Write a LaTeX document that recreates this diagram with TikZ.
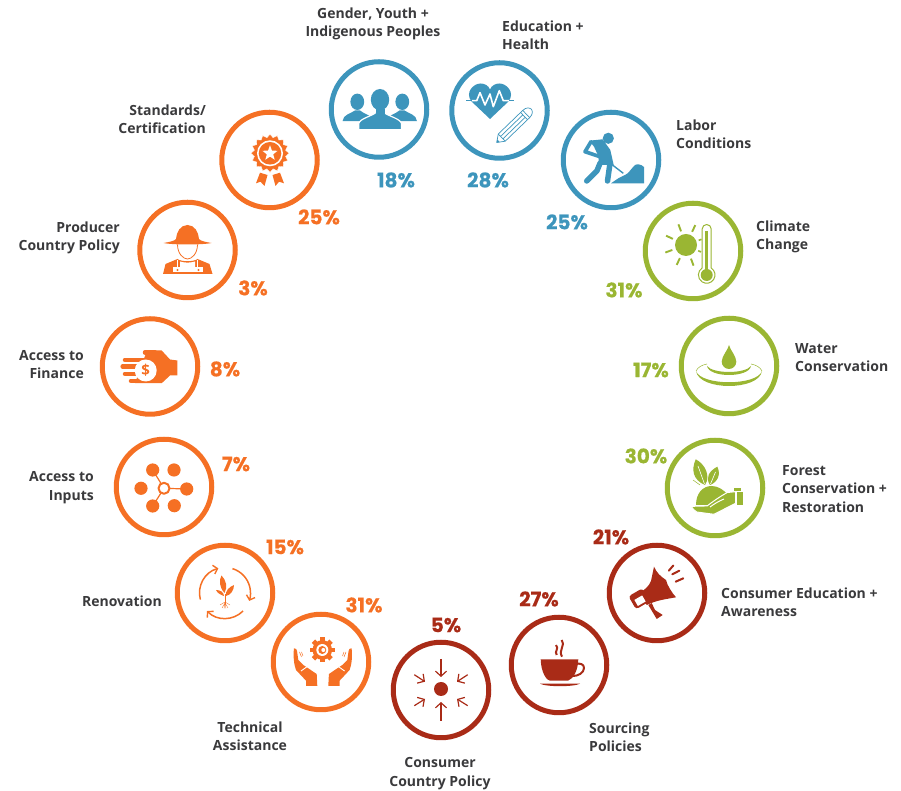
\documentclass[tikz,border=0pt]{standalone}
\usepackage{fontspec}
\setmainfont{Open Sans}
\newfontfamily\pctfont{Poppins}[BoldFeatures={FakeBold=0.4}]
\usetikzlibrary{shapes.geometric,arrows.meta}
\definecolor{cblue}{HTML}{3D95BC}
\definecolor{corange}{HTML}{F57024}
\definecolor{cgreen}{HTML}{9AB633}
\definecolor{cred}{HTML}{A92B17}
\definecolor{ctext}{HTML}{3A3A3C}
\tikzset{
  ring/.style={circle,draw,line width=5pt,minimum size=95.5pt,inner sep=0pt},
  lab/.style={text=ctext,font=\fontsize{14}{18.4}\selectfont\bfseries,inner sep=0pt},
  lableft/.style={lab,anchor=west,align=left},
  labright/.style={lab,anchor=east,align=right},
  labmid/.style={lab,anchor=center,align=center},
  pct/.style={font=\pctfont\fontsize{20}{22}\selectfont\bfseries,inner sep=0pt,anchor=center},
  barb/.style={-{Straight Barb[length=5pt,width=11pt,line width=1.2pt]}},
  sbarb/.style={-{Straight Barb[length=4pt,width=9pt,line width=1.4pt]}},
}
\begin{document}
\begin{tikzpicture}[x=1pt,y=1pt,line join=round]
\useasboundingbox (0,0) rectangle (901,791);
% rings
\node[ring,draw=cblue] (gender) at (379,681.5) {};
\node[ring,draw=cblue] (education) at (499.5,680.5) {};
\node[ring,draw=cblue] (labor) at (611,631) {};
\node[ring,draw=cgreen] (climate) at (693,540) {};
\node[ring,draw=cgreen] (water) at (729,425) {};
\node[ring,draw=cgreen] (forest) at (715,303) {};
\node[ring,draw=cred] (consed) at (657,198) {};
\node[ring,draw=cred] (sourcing) at (559,126) {};
\node[ring,draw=cred] (conscountry) at (441,101) {};
\node[ring,draw=corange] (technical) at (321,129) {};
\node[ring,draw=corange] (renovation) at (225,198) {};
\node[ring,draw=corange] (inputs) at (164,304) {};
\node[ring,draw=corange] (finance) at (150,424.5) {};
\node[ring,draw=corange] (producer) at (187.5,541) {};
\node[ring,draw=corange] (standards) at (269.5,631) {};
% labels
\node[labmid] (lgender) at (373,767) {Gender, Youth +\\Indigenous Peoples};
\node[lableft] (leducation) at (502,755.5) {Education +\\Health};
\node[lableft] (llabor) at (676,656.5) {Labor\\Conditions};
\node[lableft] (lclimate) at (756,554) {Climate\\Change};
\node[lableft] (lwater) at (795,433.5) {Water\\Conservation};
\node[lableft] (lforest) at (782,302) {Forest\\Conservation +\\Restoration};
\node[lableft] (lconsed) at (721,188.5) {Consumer Education +\\Awareness};
\node[lableft] (lsourcing) at (589,53.5) {Sourcing\\Policies};
\node[labmid] (lconscountry) at (440,17.5) {Consumer\\Country Policy};
\node[labmid] (ltechnical) at (250,55) {Technical\\Assistance};
\node[labright] (lrenovation) at (162,189.5) {Renovation};
\node[labright] (linputs) at (94,303.5) {Access to\\Inputs};
\node[labright] (lfinance) at (84,426.5) {Access to\\Finance};
\node[labright] (lproducer) at (120,553) {Producer\\Country Policy};
\node[labright] (lstandards) at (206,671.5) {Standards/\\Certification};
% percentages
\node[pct,text=cblue] (pgender) at (396,611) {18\%};
\node[pct,text=cblue] (peducation) at (488,611) {28\%};
\node[pct,text=cblue] (plabor) at (567,569) {25\%};
\node[pct,text=cgreen] (pclimate) at (624,501) {31\%};
\node[pct,text=cgreen] (pwater) at (651,421) {17\%};
\node[pct,text=cgreen] (pforest) at (646,335) {30\%};
\node[pct,text=cred] (pconsed) at (611,254) {21\%};
\node[pct,text=cred] (psourcing) at (539,192) {27\%};
\node[pct,text=cred] (pconscountry) at (446,166) {5\%};
\node[pct,text=corange] (ptechnical) at (364,186) {31\%};
\node[pct,text=corange] (prenovation) at (285,244) {15\%};
\node[pct,text=corange] (pinputs) at (236,327) {7\%};
\node[pct,text=corange] (pfinance) at (225,422) {8\%};
\node[pct,text=corange] (pproducer) at (253,503) {3\%};
\node[pct,text=corange] (pstandards) at (319,574) {25\%};
% ---- gender icon
\begin{scope}[shift={(gender.center)},color=cblue]
  \fill (-21.7,7.7) ellipse (6.9 and 8.2);
  \fill (-36.5,-11.7) .. controls (-36,-5) and (-28,-4) .. (-24,-1) -- (-19,-1) .. controls (-17,-3) and (-14,-4) .. (-10,-6) -- (-10,-11.7) -- cycle;
  \fill (23.3,7.7) ellipse (6.9 and 8.2);
  \fill (38,-11.7) .. controls (37.5,-5) and (29.5,-4) .. (25.5,-1) -- (20.5,-1) .. controls (18.5,-3) and (15.5,-4) .. (11.5,-6) -- (11.5,-11.7) -- cycle;
  \filldraw[draw=white,line width=1.2pt,fill=cblue] (-20.2,-20.2) -- (-20.2,-14) .. controls (-19,-9) and (-8,-7) .. (-3,-3) -- (5,-3) .. controls (10,-7) and (21,-9) .. (22.5,-14) -- (22.5,-20.2) -- cycle;
  \fill (1,9.8) ellipse (9.2 and 10.7);
  \fill (-3.5,0) rectangle (5.5,-5);
\end{scope}
% ---- education icon
\begin{scope}[shift={(education.center)},color=cblue]
  \fill (-9.5,-8.5) -- (-28,9) .. controls (-35,18) and (-26,27) .. (-19,27) .. controls (-15,27) and (-11,25) .. (-9.5,21) .. controls (-8,25) and (-4,27) .. (0,27) .. controls (7,27) and (16,18) .. (9,9) -- cycle;
  \draw[white,line width=1.6pt] (-27.8,9.8) -- (-22.8,9.8) -- (-19.5,17.8) -- (-14.5,5.5) -- (-9.5,16.5) -- (-6.2,3.8) -- (-.2,19.8) -- (3.8,9.8) -- (9.8,9.8);
  \draw[line width=.8pt] (-33.5,9.8) -- (-27.5,9.8) (9.5,9.8) -- (14.5,9.8);
  \begin{scope}[shift={(-2.8,-32)},rotate=44,line width=.7pt]
    \draw (0,0) -- (7,5) -- (41,5) .. controls (46,5) and (48,2) .. (48,0) .. controls (48,-2) and (46,-5) .. (41,-5) -- (7,-5) -- cycle;
    \draw (7,1.7) -- (38,1.7) (7,-1.7) -- (38,-1.7) (38,5) -- (38,-5) (41,5) -- (41,-5) (7,5) -- (7,-5);
    \fill (0,0) -- (2.5,1.8) -- (2.5,-1.8) -- cycle;
  \end{scope}
\end{scope}
% ---- labor icon
\begin{scope}[shift={(labor.center)},color=cblue]
  \fill (-2.7,21.7) circle (5.6);
  \fill (-21.7,19.3) -- (-8.3,20.7) -- (-.7,10) -- (2.7,-5) -- (-12,-5) -- (-12.7,4) -- (-17,13.3) -- cycle;
  \draw[line width=3.7pt,line cap=round] (-20,18.3) -- (-26,8.3) -- (-9.3,2.7);
  \draw[line width=5.5pt,line cap=round] (-11,-3.3) -- (-14,-10.7) -- (-24.3,-21);
  \draw[line width=5.5pt,line cap=round] (-1,-3.3) -- (-3.5,-21);
  \draw[line width=1.4pt] (-9,3) -- (12.3,-13.3);
  \fill (0,-23.3) -- (33,-23.3) -- (33,-7) .. controls (30,-4) and (26,-4) .. (24,-5) .. controls (20,-9) and (17,-14) .. (14,-15) -- (7.3,-18.3) -- cycle;
\end{scope}
% ---- climate icon
\begin{scope}[shift={(climate.center)},color=cgreen]
  \fill (-7,6) circle (11);
  \foreach \a in {65,110,155,200,245,290}
    \draw[line width=1.9pt] (-7,6) ++(\a:14.5) -- ++(\a:7.5);
  \draw[line width=1.6pt] (-7,6) ++(20:13.5) -- ++(20:3);
  \draw[line width=1.6pt] (-7,6) ++(335:13.5) -- ++(335:3);
  \draw[line width=1pt] (9.2,-17) -- (9.2,22) arc[start angle=180,end angle=0,radius=4.5] -- (18.2,-17) arc[start angle=57,end angle=-237,radius=8.3];
  \draw[line width=2.8pt] (13.7,-22) -- (13.7,20);
  \fill (13.7,-24) circle (6);
\end{scope}
% ---- water icon
\begin{scope}[shift={(water.center)},color=cgreen]
  \fill (0,21) .. controls (1,16) and (7.3,10) .. (7.3,4.3) arc[start angle=0,end angle=-180,radius=7.3] .. controls (-7.3,10) and (-1,16) .. cycle;
  \fill (-22,0) .. controls (-20,-12) and (20,-12) .. (22,0) .. controls (16,-8) and (-16,-8) .. cycle;
  \fill (-33,-5) .. controls (-30,-25) and (30,-25) .. (33,-5) .. controls (28,-20) and (-28,-20) .. cycle;
  \draw[line width=.5pt] (-33,-5) .. controls (-31,-1) and (-27,1) .. (-22,2);
  \draw[line width=.5pt] (33,-5) .. controls (31,-1) and (27,1) .. (22,2);
\end{scope}
% ---- forest icon
\begin{scope}[shift={(forest.center)},color=cgreen]
  \fill (-19,-17) .. controls (-19,-5) and (-12,2) .. (-3.3,2) .. controls (3,2) and (9,-2) .. (13,-7) -- (-6.7,-17) -- cycle;
  \filldraw[draw=white,line width=1pt,fill=cgreen] (-23.8,-18.7) .. controls (-21,-18) and (-14,-18) .. (-8,-18) .. controls (-4,-15) and (4,-9) .. (12.3,-4.5) -- (20.5,-3.7) -- (20.5,-15.3) -- (-1,-26.3) -- (-18.3,-24) .. controls (-20,-23) and (-22,-21) .. cycle;
  \draw[white,line width=1pt] (-5,-19) .. controls (-1,-16) and (4,-13) .. (9,-11);
  \fill (21.7,-3.7) rectangle (28.3,-17);
  \fill (19,-.5) rectangle (25.7,-3);
  \fill (-10,3) .. controls (-22,8) and (-24,18) .. (-19.3,28.7) .. controls (-10,24) and (-4,12) .. (-10,3) -- cycle;
  \draw[white,line width=.6pt] (-10.5,4) -- (-17,22);
  \fill (-5,3) .. controls (-10,10) and (-6,17) .. (2.3,21.3) .. controls (6,14) and (3,6) .. (-5,3) -- cycle;
  \draw[white,line width=.6pt] (-4.5,4) -- (.5,16);
  \draw[line width=.5pt] (-22,8) -- (-15,3);
\end{scope}
% ---- consumer education icon
\begin{scope}[shift={(consed.center)},color=cred]
  \fill (-3,26.3) .. controls (0,20) and (3,17) .. (9,13) .. controls (10,8) and (15,0) .. (19,-4.3) .. controls (10,-6) and (0,-7) .. (-10.3,-12) -- (-17.7,.3) .. controls (-12,3) and (-8,7) .. (-6,12) -- cycle;
  \fill[rotate around={30:(-18.7,-6.3)},rounded corners=3pt] (-25.7,-13.8) rectangle (-9.7,1.2);
  \fill[white,rotate around={30:(-17,-7.7)}] (-21.5,-11.2) rectangle (-12.5,-4.2);
  \fill (-8.7,-12) -- (-.3,-26) -- (5.7,-22) -- (-2,-17) -- (-5.3,-10) -- cycle;
  \draw[line width=2pt,line cap=round] (11.8,22.3) -- (16.3,27.5);
  \draw[line width=2pt,line cap=round] (15.3,18.7) -- (22.3,22.3);
  \draw[line width=2pt,line cap=round] (18.7,11.3) -- (26.3,14.7);
\end{scope}
% ---- sourcing icon
\begin{scope}[shift={(sourcing.center)},color=cred]
  \fill (-18.3,5.7) .. controls (-18,-8) and (-12,-15.7) .. (-9,-15.7) -- (9,-15.7) .. controls (14,-14) and (19,-6) .. (19.3,5.7) -- cycle;
  \draw[line width=2pt] (17,1) .. controls (21,2) and (25,1) .. (25,-3) .. controls (25,-8) and (19,-11) .. (14,-11);
  \fill (-19,-18.7) -- (21,-18.7) .. controls (15,-22) and (-13,-22) .. cycle;
  \draw[line width=2pt] (2.7,25) .. controls (7,20) and (-1,15) .. (3,8.3);
  \draw[line width=2pt] (-3,20) .. controls (.5,16) and (-5,14) .. (-2.3,10);
\end{scope}
% ---- consumer country icon
\begin{scope}[shift={(conscountry.center)},color=cred,line width=1.2pt]
  \fill (0,1) circle (7);
  \draw[barb] (0,31) -- (0,13);
  \draw[barb] (0,-31) -- (0,-12);
  \draw[barb] (-26.7,15.3) -- (-16,8.3);
  \draw[barb] (26.7,15.3) -- (16,8.3);
  \draw[barb] (-26.7,-15.7) -- (-16,-9);
  \draw[barb] (26.7,-15.7) -- (16,-9);
\end{scope}
% ---- technical icon
\begin{scope}[shift={(technical.center)},color=corange]
  \foreach \a in {0,45,...,315}
    \fill[shift={(1.3,12)},rotate=\a] (-2.4,0) rectangle (2.4,12.5);
  \fill (1.3,12) circle (9.8);
  \fill[white] (1.3,12) circle (6);
  \fill (1.3,12) circle (4);
  \fill[white] (2.3,12) circle (2);
  \fill (-27,13.7) .. controls (-25,13.5) and (-24.3,13) .. (-24,11) -- (-22.7,2) -- (-17.7,-3) -- (-4.3,-12) -- (-3.7,-24) -- (-15,-24) -- (-15,-18.7) -- (-25,-8) .. controls (-27,-3) and (-28,6) .. cycle;
  \draw[white,line width=.9pt] (-20,-9) -- (-13,-4);
  \fill (30.6,13.7) .. controls (28.6,13.5) and (27.9,13) .. (27.6,11) -- (26.3,2) -- (21.3,-3) -- (7.9,-12) -- (7.3,-24) -- (18.6,-24) -- (18.6,-18.7) -- (28.6,-8) .. controls (30.6,-3) and (31.6,6) .. cycle;
  \draw[white,line width=.9pt] (23.6,-9) -- (16.6,-4);
  \draw[line width=.5pt] (-21.5,10) -- (-19.5,5) (-19.5,10) -- (-18,6);
  \draw[line width=.5pt] (25,10) -- (23,5) (23,10) -- (21.5,6);
\end{scope}
% ---- renovation icon
\begin{scope}[shift={(renovation.center)},color=corange,line width=1.5pt]
  \draw[sbarb] (195:25.5) arc[start angle=195,end angle=105,radius=25.5];
  \draw[sbarb] (73:25.5) arc[start angle=73,end angle=-18,radius=25.5];
  \draw[sbarb] (-45:25.5) arc[start angle=-45,end angle=-135,radius=25.5];
  \draw[line width=.8pt] (0,-1) -- (0,-11);
  \fill (-.5,0) .. controls (-6,6) and (-6,13) .. (-3.5,17.5) .. controls (1,13) and (3,6) .. (-.5,0) -- cycle;
  \fill (-1,-3) .. controls (-4,-2) and (-8,0) .. (-9,3) .. controls (-5,3) and (-1,1) .. (-1,-3) -- cycle;
  \fill (1,-3) .. controls (6,-2) and (9,3) .. (9,8) .. controls (4,6) and (0,2) .. (1,-3) -- cycle;
  \draw[line width=.35pt] (0,-9) -- (-5,-12) (0,-9) -- (5,-12) (0,-10) -- (-3,-15) (0,-10) -- (3,-15) (0,-11) -- (-1,-15.5) (0,-11) -- (1,-15.5);
\end{scope}
% ---- inputs icon
\begin{scope}[shift={(inputs.center)},color=corange]
  \draw[line width=1.2pt] (0,-1.3) -- (-11.3,17) (0,-1.3) -- (22.7,-2) (0,-1.3) -- (-11.3,-19);
  \fill (-11.3,17) circle (6.6) (10,17) circle (6.6) (-23,-1.3) circle (6.6) (22.7,-2) circle (6.6) (-11.3,-19) circle (6.6) (10.3,-18.7) circle (6.6);
  \filldraw[fill=white,line width=2pt] (0,-1.3) circle (5.5);
\end{scope}
% ---- finance icon
\begin{scope}[shift={(finance.center)},color=corange]
  \fill (-3,16) -- (11.7,16) -- (20,7) -- (27.3,6) -- (27.3,-9) -- (20,-9) -- (11.7,-16.7) -- (-15,-16.7) -- cycle;
  \draw[line width=4.5pt,line cap=round] (-5,14) -- (5,14);
  \draw[line width=4.5pt,line cap=round] (-25,6.7) -- (-5,6.7);
  \draw[line width=4.5pt,line cap=round] (-27.3,0) -- (-13,0);
  \draw[line width=4.5pt,line cap=round] (-25,-7.3) -- (-13,-7.3);
  \draw[line width=4.5pt,line cap=round] (-19,-14.3) -- (-5,-14.3);
  \fill[white] (-4.3,-4) circle (11);
  \node[text=corange,inner sep=0pt,font=\fontsize{15}{15}\selectfont\bfseries] (dollar) at (-4.3,-4) {\$};
\end{scope}
% ---- producer icon
\begin{scope}[shift={(producer.center)},color=corange]
  \fill (-24,7) .. controls (-18,8) and (-13,9) .. (-11.5,11) .. controls (-11,18) and (-7,25) .. (0,25) .. controls (7,25) and (11,18) .. (11.5,11) .. controls (13,9) and (18,8) .. (24,7) .. controls (15,5) and (-15,5) .. cycle;
  \draw[line width=.8pt] (-10,5.5) .. controls (-10,-4) and (-4,-9) .. (0,-9) .. controls (4,-9) and (10,-4) .. (10,5.5);
  \fill (-24.5,-24) -- (-22,-14) -- (-10,-9) .. controls (-6,-12) and (6,-12) .. (10,-9) -- (22,-14) -- (25,-24) -- cycle;
  \fill[white] (-7.5,-11.5) .. controls (-3,-13) and (3,-13) .. (7.5,-11.5) -- (7.5,-17) -- (-7.5,-17) -- cycle;
  \fill[white] (-15,-17.5) rectangle (15,-22);
  \draw[white,line width=1.2pt] (-10,-10) -- (-10,-18) (10,-10) -- (10,-18);
  \fill (-10,-20) circle (1.2) (11,-20) circle (1.2);
\end{scope}
% ---- standards icon
\begin{scope}[shift={(standards.center)},color=corange]
  \fill (-9.5,-12.7) -- (-2,-15) -- (-5,-26) -- (-9,-21.7) -- (-13.5,-23.3) -- cycle;
  \fill (3,-15) -- (10.5,-12.7) -- (14.5,-23.3) -- (9.5,-21.7) -- (6,-26) -- cycle;
  \node[star,star points=16,star point ratio=1.2,fill=corange,inner sep=0pt,minimum size=38pt,draw=white,line width=.3pt] (burst) at (.5,6.7) {};
  \fill[white] (.5,6.7) circle (13);
  \fill (.5,6.7) circle (11.3);
  \node[star,star points=5,star point ratio=2.4,fill=white,inner sep=0pt,minimum size=16pt] (medal) at (.5,6.7) {};
\end{scope}
\end{tikzpicture}
\end{document}
